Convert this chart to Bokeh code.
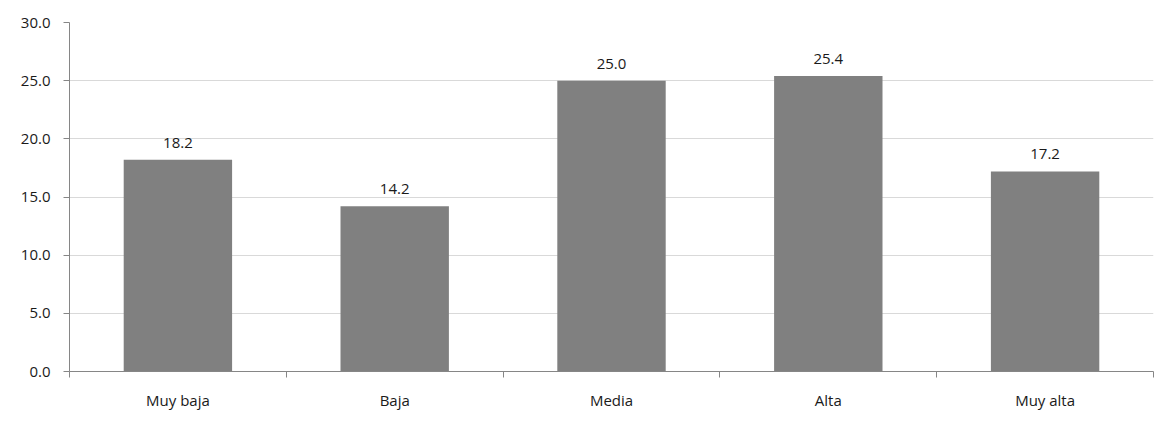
from bokeh.plotting import figure
from bokeh.models import ColumnDataSource, FixedTicker, LabelSet, Range1d
from bokeh.core.properties import value
from bokeh.embed import file_html
from bokeh.resources import INLINE

categories = ["Muy baja", "Baja", "Media", "Alta", "Muy alta"]
values = [18.2, 14.2, 25.0, 25.4, 17.2]
y_ticks = [0, 5, 10, 15, 20, 25, 30]

xs = [i + 0.5 for i in range(len(categories))]
src = ColumnDataSource(dict(x=xs, top=values, lab=[f"{v:.1f}" for v in values]))

FONT = "Open Sans"
FS = "15px"
TXT = "#1a1a1a"
p = figure(width=1159, height=412, output_backend="svg", toolbar_location=None,
           x_range=Range1d(0, len(categories)), y_range=Range1d(0, 30),
           min_border_left=69, min_border_right=6, min_border_top=22, min_border_bottom=30)
p.outline_line_color = None
p.background_fill_color = "white"
p.border_fill_color = "white"

p.vbar(x="x", top="top", width=0.5, source=src, fill_color="#808080", line_color=None)

labels = LabelSet(x="x", y="top", text="lab", source=src, text_align="center",
                  text_baseline="bottom", y_offset=12, text_font=value(FONT),
                  text_font_size=FS, text_color=TXT)
p.add_layout(labels)

# x axis
p.xaxis.ticker = FixedTicker(ticks=xs, minor_ticks=list(range(len(categories) + 1)))
p.xaxis.major_label_overrides = {x: c for x, c in zip(xs, categories)}
p.xaxis.major_tick_out = 0
p.xaxis.major_tick_in = 0
p.xaxis.minor_tick_out = 6
p.xaxis.minor_tick_in = 0
p.xaxis.minor_tick_line_color = "#868686"
p.xaxis.axis_line_color = "#868686"
p.xaxis.major_label_standoff = 12
p.xaxis.major_label_text_font = FONT
p.xaxis.major_label_text_font_size = FS
p.xaxis.major_label_text_color = TXT

# y axis
p.yaxis.ticker = FixedTicker(ticks=y_ticks, minor_ticks=[])
p.yaxis.major_label_overrides = {t: f"{t:.1f}" for t in y_ticks}
p.yaxis.major_tick_out = 6
p.yaxis.major_tick_in = 0
p.yaxis.major_tick_line_color = "#868686"
p.yaxis.axis_line_color = "#868686"
p.yaxis.major_label_standoff = 13
p.yaxis.major_label_text_font = FONT
p.yaxis.major_label_text_font_size = FS
p.yaxis.major_label_text_color = TXT

p.xgrid.grid_line_color = None
p.ygrid.grid_line_color = "#d9d9d9"

open("out.html", "w").write(file_html(p, INLINE))
